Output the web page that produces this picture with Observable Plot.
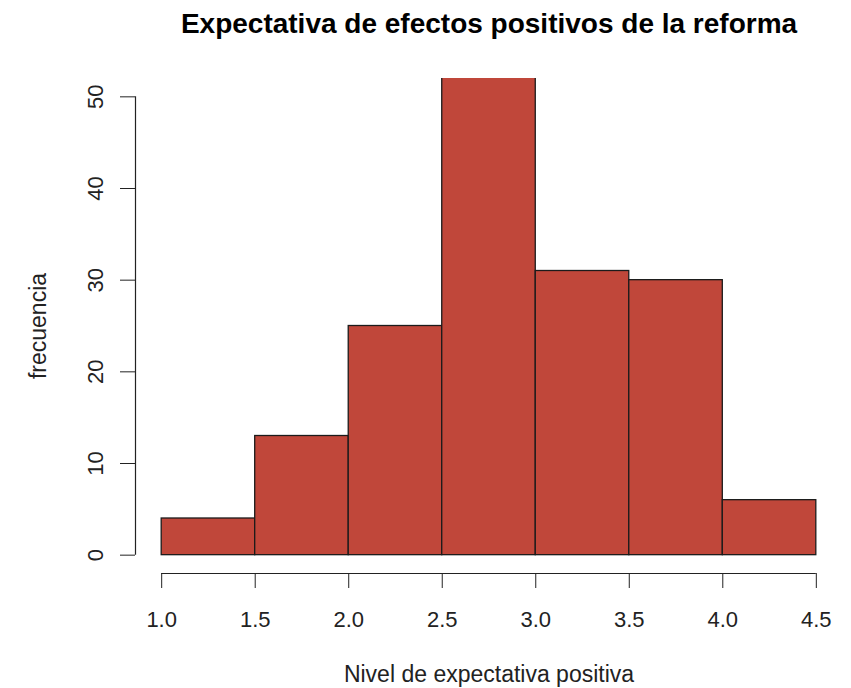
<!DOCTYPE html>
<html>
<head>
<meta charset="utf-8">
<script src="https://cdn.jsdelivr.net/npm/d3@7"></script>
<script src="https://cdn.jsdelivr.net/npm/@observablehq/plot@0.6"></script>
<style>
  html, body { margin: 0; padding: 0; background: #fff; }
  #chart svg { display: block; }
</style>
</head>
<body>
<div id="chart"></div>
<script>
const title = "Expectativa de efectos positivos de la reforma";
const xLabel = "Nivel de expectativa positiva";
const yLabel = "frecuencia";
const breaks = [1.0, 1.5, 2.0, 2.5, 3.0, 3.5, 4.0, 4.5];
const counts = [4, 13, 25, 55, 31, 30, 6];
const xTicks = [1.0, 1.5, 2.0, 2.5, 3.0, 3.5, 4.0, 4.5];
const yTicks = [0, 10, 20, 30, 40, 50];
const yLimits = [0, 50];

const bins = counts.map((c, i) => ({x1: breaks[i], x2: breaks[i + 1], count: c}));

// R-style plot region: limits extended by 4% on each side
const xr = breaks[breaks.length - 1] - breaks[0];
const xDomain = [breaks[0] - 0.04 * xr, breaks[breaks.length - 1] + 0.04 * xr];
const yr = yLimits[1] - yLimits[0];
const yDomain = [yLimits[0] - 0.04 * yr, yLimits[1] + 0.04 * yr];

const font = "'Liberation Sans', Arial, Helvetica, sans-serif";

const chart = Plot.plot({
  width: 851,
  height: 688,
  marginLeft: 135,
  marginRight: 9,
  marginTop: 78,
  marginBottom: 115,
  style: {fontFamily: font, background: "#fff", color: "#222"},
  x: {domain: xDomain, ticks: xTicks, tickSize: 15, tickFormat: () => "", label: null},
  y: {domain: yDomain, ticks: yTicks, tickSize: 15, tickFormat: () => "", label: null},
  marks: [
    Plot.rectY(bins, {x1: "x1", x2: "x2", y1: 0, y2: "count", fill: "#C0473A", stroke: "#1b1b1b", strokeWidth: 1.3, clip: true}),
    Plot.ruleX([xDomain[0]], {y1: yTicks[0], y2: yTicks[yTicks.length - 1], stroke: "#222", strokeWidth: 1.2}),
    Plot.ruleY([yDomain[0]], {x1: xTicks[0], x2: xTicks[xTicks.length - 1], stroke: "#222", strokeWidth: 1.2}),
    Plot.text(xTicks, {x: d => d, text: d => d.toFixed(1), frameAnchor: "bottom", dy: 53, lineAnchor: "bottom", textAnchor: "middle", fontSize: 22, fill: "#222"}),
    Plot.text(yTicks, {y: d => d, text: d => String(d), frameAnchor: "left", dx: -33, rotate: -90, lineAnchor: "bottom", textAnchor: "middle", fontSize: 22, fill: "#222"}),
    Plot.text([xLabel], {text: d => d, frameAnchor: "bottom", dy: 108, lineAnchor: "bottom", textAnchor: "middle", fontSize: 23, fill: "#222"}),
    Plot.text([yLabel], {text: d => d, frameAnchor: "left", dx: -90, rotate: -90, lineAnchor: "bottom", textAnchor: "middle", fontSize: 23, fill: "#222"}),
    Plot.text([title], {text: d => d, frameAnchor: "top", dy: -46, lineAnchor: "bottom", textAnchor: "middle", fontSize: 28, fontWeight: "bold", fill: "#000"})
  ]
});
document.getElementById("chart").appendChild(chart);
</script>
</body>
</html>
